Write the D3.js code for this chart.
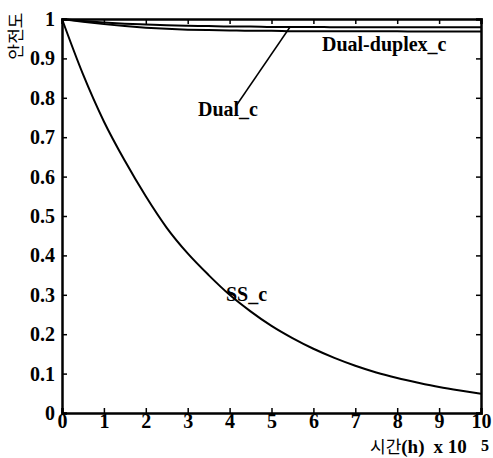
<!DOCTYPE html>
<html>
<head>
<meta charset="utf-8">
<script src="https://cdn.jsdelivr.net/npm/d3@7"></script>
<style>
  body { margin: 0; background: #fff; }
  text { font-family: "Liberation Serif", "DejaVu Serif", serif; font-weight: bold; fill: #000; }
  .kr { font-family: "Noto Sans CJK KR", sans-serif; font-weight: normal; }
</style>
</head>
<body>
<svg id="chart"></svg>
<script>
// time in units of 10^5 h
const hours = [0, 0.5, 1, 1.5, 2, 2.5, 3, 3.5, 4, 4.5, 5, 5.5, 6, 6.5, 7, 7.5, 8, 8.5, 9, 9.5, 10];

const ssC = [1, 0.86, 0.74, 0.64, 0.55, 0.47, 0.405, 0.35, 0.30, 0.258, 0.221, 0.19, 0.163, 0.14, 0.12, 0.103, 0.089, 0.077, 0.066, 0.057, 0.049];
const dualC = [1, 0.995, 0.991, 0.988, 0.986, 0.984, 0.983, 0.982, 0.981, 0.981, 0.980, 0.980, 0.980, 0.979, 0.979, 0.979, 0.979, 0.979, 0.979, 0.979, 0.979];
const dualDuplexC = [1, 0.993, 0.987, 0.982, 0.978, 0.975, 0.973, 0.972, 0.971, 0.970, 0.970, 0.969, 0.969, 0.969, 0.969, 0.969, 0.969, 0.968, 0.968, 0.968, 0.968];

const xTicks = [0, 1, 2, 3, 4, 5, 6, 7, 8, 9, 10];
const yTicks = [0, 0.1, 0.2, 0.3, 0.4, 0.5, 0.6, 0.7, 0.8, 0.9, 1];

const width = 493, height = 458;
const margin = { left: 62, right: 12, top: 19, bottom: 45 };

const svg = d3.select("#chart")
  .attr("width", width)
  .attr("height", height);

const x = d3.scaleLinear().domain([0, 10]).range([margin.left, width - margin.right]);
const y = d3.scaleLinear().domain([0, 1]).range([height - margin.bottom, margin.top]);

const line = d3.line()
  .x((d, i) => x(hours[i]))
  .y(d => y(d))
  .curve(d3.curveMonotoneX);

// curves
[ssC, dualC, dualDuplexC].forEach(s => {
  svg.append("path")
    .attr("d", line(s))
    .attr("fill", "none")
    .attr("stroke", "#000")
    .attr("stroke-width", 2);
});

// axes with inward ticks, box style
const tickLen = 5;
svg.append("g")
  .attr("transform", `translate(0,${y(0)})`)
  .call(d3.axisBottom(x).tickValues(xTicks).tickSize(-tickLen).tickPadding(1).tickFormat(d3.format("d")))
  .call(g => g.selectAll("text").attr("font-size", 20).attr("dy", "0.71em"));

svg.append("g")
  .attr("transform", `translate(${x(0)},0)`)
  .call(d3.axisLeft(y).tickValues(yTicks).tickSize(-tickLen).tickPadding(7).tickFormat(d => d === 0 || d === 1 ? d3.format("d")(d) : d3.format(".1f")(d)))
  .call(g => g.selectAll("text").attr("font-size", 20));

svg.append("g")
  .attr("transform", `translate(0,${y(1)})`)
  .call(d3.axisTop(x).tickValues(xTicks).tickSize(-tickLen).tickFormat(""));

svg.append("g")
  .attr("transform", `translate(${x(10)},0)`)
  .call(d3.axisRight(y).tickValues(yTicks).tickSize(-tickLen).tickFormat(""));

svg.selectAll(".domain").attr("stroke-width", 2.5);
svg.selectAll(".tick line").attr("stroke-width", 1.5);
svg.selectAll(".tick text").attr("fill", "#000");

// labels on curves
svg.append("text").attr("x", 322).attr("y", 51).attr("font-size", 20).text("Dual-duplex_c");
svg.append("text").attr("x", 198).attr("y", 116).attr("font-size", 20).text("Dual_c");
svg.append("text").attr("x", 226).attr("y", 301).attr("font-size", 20).text("SS_c");

// pointer from Dual_c label to its curve
svg.append("line")
  .attr("x1", 236).attr("y1", 106)
  .attr("x2", x(5.45)).attr("y2", y(0.981))
  .attr("stroke", "#000").attr("stroke-width", 1.5);

// axis titles
svg.append("text")
  .attr("class", "kr")
  .attr("transform", "translate(22,36) rotate(-90)")
  .attr("text-anchor", "middle")
  .attr("font-size", 17)
  .text("안전도");

const xt = svg.append("text").attr("x", 370).attr("y", 453).attr("font-size", 19);
xt.append("tspan").attr("class", "kr").attr("font-size", 17).text("시간");
xt.append("tspan").text("(h)");
xt.append("tspan").attr("dx", 9).text("x 10");
svg.append("text").attr("x", 481).attr("y", 451).attr("font-size", 16).text("5");
</script>
</body>
</html>
